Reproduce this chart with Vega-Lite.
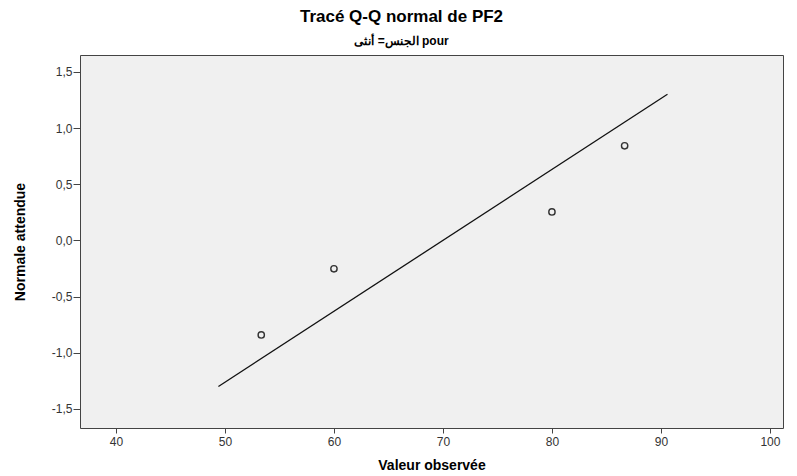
{
  "$schema": "https://vega.github.io/schema/vega-lite/v6.json",
  "autosize": "none",
  "width": 703,
  "height": 373,
  "padding": {"left": 80, "top": 55, "right": 14, "bottom": 48},
  "background": "white",
  "title": {
    "text": "Tracé Q-Q normal de PF2",
    "subtitle": "الجنس= أنثى pour",
    "anchor": "middle",
    "dx": -30,
    "offset": 7,
    "font": "Liberation Sans",
    "fontSize": 17,
    "fontWeight": "bold",
    "color": "#000",
    "subtitleFont": "Liberation Sans",
    "subtitleFontSize": 12,
    "subtitleFontWeight": "bold",
    "subtitleColor": "#000",
    "subtitlePadding": 10
  },
  "config": {
    "view": {"fill": "#F0F0F0", "stroke": "#444", "strokeWidth": 1},
    "axis": {
      "grid": false,
      "domain": false,
      "tickColor": "#444",
      "labelFont": "Liberation Sans",
      "labelFontSize": 12,
      "labelColor": "#333",
      "titleFont": "Liberation Sans",
      "titleFontSize": 14,
      "titleFontWeight": "bold",
      "titleColor": "#000"
    }
  },
  "datasets": {
    "pts": [
      {"observed": 53.33, "expected": -0.842},
      {"observed": 60.0, "expected": -0.253},
      {"observed": 80.0, "expected": 0.253},
      {"observed": 86.67, "expected": 0.842}
    ],
    "refline": [
      {"observed": 49.4, "expected": -1.3},
      {"observed": 90.6, "expected": 1.3}
    ]
  },
  "layer": [
    {
      "data": {"name": "refline"},
      "mark": {"type": "line", "color": "#111", "strokeWidth": 1.3},
      "encoding": {
        "x": {"field": "observed", "type": "quantitative"},
        "y": {"field": "expected", "type": "quantitative"}
      }
    },
    {
      "data": {"name": "pts"},
      "mark": {"type": "point", "shape": "circle", "filled": false, "color": "#333", "strokeWidth": 1.4, "size": 40, "opacity": 1},
      "encoding": {
        "x": {
          "field": "observed",
          "type": "quantitative",
          "scale": {"domain": [36.7, 101.2], "nice": false, "zero": false},
          "axis": {"title": "Valeur observée", "values": [40, 50, 60, 70, 80, 90, 100], "tickSize": 5, "labelPadding": 3, "titlePadding": 11}
        },
        "y": {
          "field": "expected",
          "type": "quantitative",
          "scale": {"domain": [-1.67, 1.65], "nice": false, "zero": false},
          "axis": {
            "title": "Normale attendue",
            "values": [-1.5, -1, -0.5, 0, 0.5, 1, 1.5],
            "labelExpr": "replace(replace(format(datum.value, '.1f'), '.', ','), '−', '-')",
            "tickSize": 7,
            "labelPadding": 1,
            "titlePadding": 24
          }
        }
      }
    }
  ]
}
